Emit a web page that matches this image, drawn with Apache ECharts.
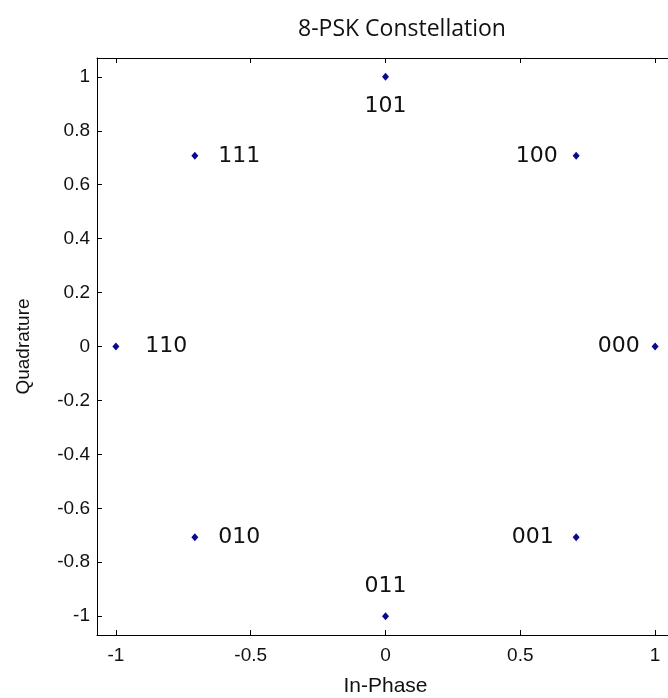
<!DOCTYPE html>
<html>
<head>
<meta charset="utf-8">
<script src="https://cdn.jsdelivr.net/npm/echarts@6/dist/echarts.min.js"></script>
<style>
html,body{margin:0;padding:0;background:#fff;}
#chart{width:668px;height:698px;}
</style>
</head>
<body>
<div id="chart"></div>
<script>
// ---- data ----
const bitLabels = ['000', '001', '010', '011', '100', '101', '110', '111'];
const inPhase    = [1, 0.707, -0.707, 0, 0.707, 0, -1, -0.707];
const quadrature = [0, -0.707, -0.707, -1, 0.707, 1, 0, 0.707];
const xTicks = [-1, -0.5, 0, 0.5, 1];
const yTicks = [-1, -0.8, -0.6, -0.4, -0.2, 0, 0.2, 0.4, 0.6, 0.8, 1];

// label placement (style only)
const labelSide = ['left', 'left', 'right', 'top', 'left', 'bottom', 'right', 'right'];
const labelDist = [12, 19, 20, 15, 15, 14, 26, 20];

const chart = echarts.init(document.getElementById('chart'));

const tickFont = {fontFamily: 'Liberation Sans, Arial, sans-serif', fontSize: 19, color: '#111'};
const lineStyle = {color: '#000', width: 1};

function fmt(v) { return String(Math.round(v * 10) / 10); }

const points = inPhase.map((x, i) => ({
  value: [x, quadrature[i]],
  label: {show: true, formatter: bitLabels[i], position: labelSide[i], distance: labelDist[i]}
}));

chart.setOption({
  backgroundColor: '#fff',
  animation: false,
  title: {
    text: '8-PSK Constellation',
    left: 397, top: 13, textAlign: 'center',
    textStyle: {fontFamily: 'Open Sans, sans-serif', fontSize: 23, fontWeight: 'normal', color: '#111'}
  },
  grid: {left: 97, top: 58, width: 577, height: 577, outerBoundsMode: 'none', containLabel: false},
  xAxis: [{
    type: 'value', min: -1.07, max: 1.07, position: 'bottom',
    name: 'In-Phase', nameLocation: 'middle', nameGap: 41,
    nameTextStyle: {fontFamily: 'Liberation Sans, Arial, sans-serif', fontSize: 21, color: '#111'},
    axisLine: {show: true, onZero: false, lineStyle},
    axisTick: {show: true, inside: true, length: 5, lineStyle, customValues: xTicks},
    axisLabel: Object.assign({margin: 11, customValues: xTicks, formatter: fmt}, tickFont),
    splitLine: {show: false}
  }, {
    type: 'value', min: -1.07, max: 1.07, position: 'top',
    axisLine: {show: true, onZero: false, lineStyle},
    axisTick: {show: true, inside: true, length: 5, lineStyle, customValues: xTicks},
    axisLabel: {show: false},
    splitLine: {show: false}
  }],
  yAxis: [{
    type: 'value', min: -1.07, max: 1.07, position: 'left',
    name: 'Quadrature', nameLocation: 'middle', nameGap: 64, nameRotate: 90,
    nameTextStyle: {fontFamily: 'Liberation Sans, Arial, sans-serif', fontSize: 19, color: '#111'},
    axisLine: {show: true, onZero: false, lineStyle},
    axisTick: {show: true, inside: true, length: 5, lineStyle, customValues: yTicks},
    axisLabel: Object.assign({margin: 7, customValues: yTicks, formatter: fmt}, tickFont),
    splitLine: {show: false}
  }, {
    type: 'value', min: -1.07, max: 1.07, position: 'right',
    axisLine: {show: true, onZero: false, lineStyle},
    axisTick: {show: true, inside: true, length: 5, lineStyle, customValues: yTicks},
    axisLabel: {show: false},
    splitLine: {show: false}
  }],
  series: [{
    type: 'scatter',
    xAxisIndex: 0, yAxisIndex: 0,
    symbol: 'diamond', symbolSize: [7, 8],
    itemStyle: {color: '#0a0a8c', opacity: 1},
    label: {fontFamily: 'DejaVu Sans, Verdana, sans-serif', fontSize: 22, color: '#111'},
    emphasis: {disabled: true},
    data: points
  }]
});
</script>
</body>
</html>
